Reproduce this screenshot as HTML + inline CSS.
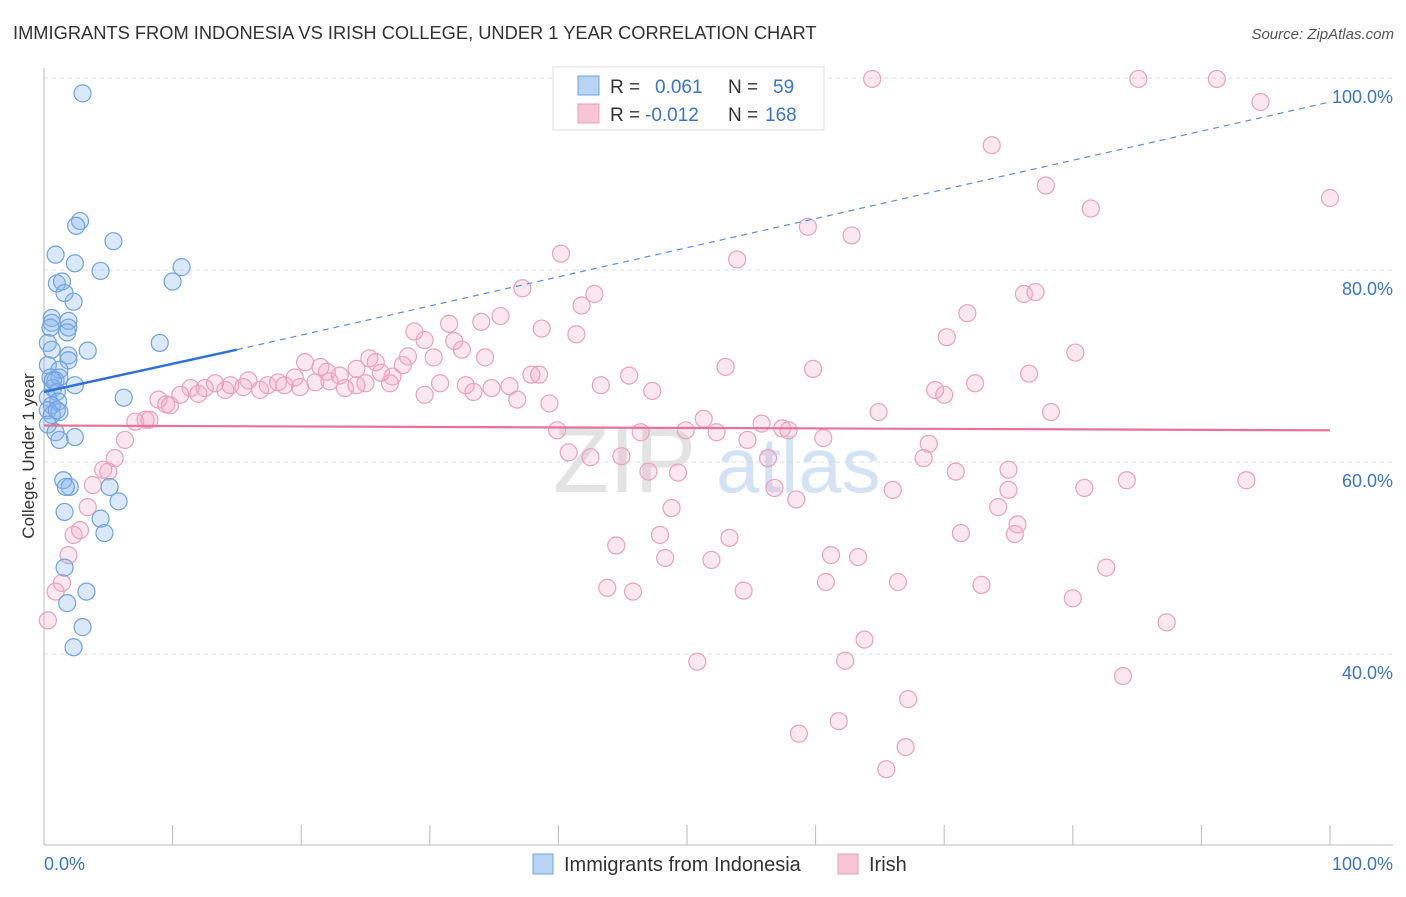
<!DOCTYPE html>
<html><head><meta charset="utf-8"><style>
body{margin:0;background:#fff;font-family:"Liberation Sans",sans-serif;}
svg text{font-family:"Liberation Sans",sans-serif;}
</style></head><body>
<svg id="chart" width="1406" height="892" viewBox="0 0 1406 892" xmlns="http://www.w3.org/2000/svg">
<text x="13" y="39" font-size="18.3" fill="#333">IMMIGRANTS FROM INDONESIA VS IRISH COLLEGE, UNDER 1 YEAR CORRELATION CHART</text>
<text x="1394" y="39" font-size="15" fill="#555" text-anchor="end" font-style="italic">Source: ZipAtlas.com</text>
<g id="grid"></g>
<text x="553" y="492" font-size="92" fill="#ddd" font-family="Liberation Serif" opacity="0.8">ZIP</text>
<text x="716" y="492" font-size="78" fill="#c9dcf2" opacity="0.8">atlas</text>
<g id="axes"></g>
<g id="pts"></g>
<g id="trends"></g>
<text transform="translate(34,456) rotate(-90)" font-size="17" fill="#333" text-anchor="middle">College, Under 1 year</text>
<g>
<rect x="553" y="67" width="271" height="63" fill="#fff" stroke="#ddd"/>
<rect x="578" y="76" width="21" height="19" fill="#b8d3f3" stroke="#6fa4e0"/>
<rect x="578" y="104" width="21" height="19" fill="#f8c5d6" stroke="#e9a0bb"/>
<text x="610" y="93" font-size="19" fill="#333">R =</text><text x="655" y="93" font-size="19" fill="#3a74d0">0.061</text>
<text x="728" y="93" font-size="19" fill="#333">N =</text><text x="773" y="93" font-size="19" fill="#3a74d0">59</text>
<text x="610" y="121" font-size="19" fill="#333">R =</text><text x="645" y="121" font-size="19" fill="#3a74d0">-0.012</text>
<text x="728" y="121" font-size="19" fill="#333">N =</text><text x="765" y="121" font-size="19" fill="#3a74d0">168</text>
</g>
<g>
<rect x="533" y="854" width="20" height="20" fill="#b8d3f3" stroke="#6fa4e0"/>
<text x="564" y="871" font-size="20" fill="#333">Immigrants from Indonesia</text>
<rect x="838" y="854" width="20" height="20" fill="#f8c5d6" stroke="#e9a0bb"/>
<text x="869" y="871" font-size="20" fill="#333">Irish</text>
</g>
</svg>
<script>
const yTicks=[40,60,80,100];
const yTickLabels=["40.0%","60.0%","80.0%","100.0%"];
const xTickLabels=["0.0%","100.0%"];
const bluePx=[[82,93],[80,221],[76,226],[113,241],[56,255],[100,271],[75,263],[181,267],[172,282],[57,283],[62,282],[65,293],[73,302],[52,318],[52,323],[69,321],[69,328],[67,332],[50,328],[160,343],[48,343],[52,350],[88,351],[68,355],[68,360],[48,365],[60,370],[50,378],[60,378],[75,385],[55,380],[53,388],[57,392],[48,398],[124,398],[58,402],[52,405],[48,410],[60,412],[52,415],[48,425],[56,432],[75,437],[60,440],[63,480],[70,487],[66,487],[110,487],[119,501],[64,512],[101,519],[104,533],[64,568],[87,592],[67,603],[82,627],[73,647],[53,380],[57,410]];
const pinkPx=[[872,79],[1139,79],[1217,79],[1261,102],[992,145],[1330,198],[1046,186],[1091,209],[808,227],[852,235],[561,254],[737,259],[522,288],[594,294],[581,306],[1024,294],[1036,292],[967,313],[414,331],[449,324],[481,322],[500,316],[542,329],[576,334],[947,337],[1075,353],[425,340],[454,341],[462,350],[485,357],[408,356],[434,357],[370,358],[305,362],[320,367],[327,372],[340,376],[357,369],[376,362],[381,373],[393,377],[403,365],[356,385],[330,381],[315,382],[295,378],[285,385],[268,385],[249,380],[230,385],[215,383],[205,388],[190,388],[180,395],[170,405],[158,400],[166,404],[145,420],[135,422],[150,420],[125,440],[115,458],[103,470],[108,472],[93,485],[88,507],[80,530],[73,535],[68,555],[62,583],[55,592],[48,620],[198,394],[225,390],[243,387],[260,390],[278,382],[300,387],[345,388],[365,383],[390,383],[425,395],[440,383],[466,385],[474,392],[492,388],[509,386],[517,400],[532,375],[539,375],[550,403],[601,385],[629,376],[652,391],[726,367],[813,369],[935,390],[944,395],[975,383],[1029,374],[1051,412],[878,412],[704,419],[762,424],[788,430],[782,428],[748,440],[716,432],[686,430],[641,432],[557,430],[823,438],[768,458],[929,444],[923,458],[956,472],[648,472],[678,473],[569,452],[591,457],[621,456],[774,488],[796,499],[893,490],[1008,490],[1085,488],[1127,480],[1247,480],[672,508],[660,535],[998,507],[1018,524],[1015,534],[961,533],[730,538],[616,546],[665,558],[711,560],[831,555],[858,557],[826,582],[898,582],[981,585],[607,588],[633,592],[743,591],[1106,568],[1073,598],[1167,622],[865,640],[845,661],[697,662],[1123,676],[908,699],[839,721],[799,734],[905,747],[886,769],[1009,470]];
const blueData=bluePx.map(p=>[+((p[0]-44)/12.86).toFixed(1),+(100-(p[1]-78)/9.6).toFixed(1)]);
const pinkData=pinkPx.map(p=>[+((p[0]-44)/12.86).toFixed(1),+(100-(p[1]-78)/9.6).toFixed(1)]);
const blueTrend=[[0,67.3],[15,71.7],[100,97.5]];
const pinkTrend=[[0,63.8],[100,63.3]];

const NS="http://www.w3.org/2000/svg";
const X=v=>44+v*12.86, Y=v=>78+(100-v)*9.6;
function mk(tag,attrs,parent){const e=document.createElementNS(NS,tag);for(const k in attrs)e.setAttribute(k,attrs[k]);document.getElementById(parent).appendChild(e);return e;}
yTicks.forEach((t,i)=>{
 const l=mk('line',{x1:44,x2:1393,y1:Y(t),y2:Y(t),stroke:'#ddd','stroke-dasharray':'4,4'},'grid');
 
 
 const tx=mk('text',{x:1393,y:Y(t)+25,'font-size':18,fill:'#3a74d0','text-anchor':'end'},'axes');
 tx.textContent=yTickLabels[i];
 
 
});
mk('line',{x1:44,x2:44,y1:68,y2:845,stroke:'#bbb'},'axes');
mk('line',{x1:44,x2:1393,y1:845,y2:845,stroke:'#bbb'},'axes');
for(let i=0;i<=10;i++){const t=mk('line',{x1:X(i*10),x2:X(i*10),y1:825,y2:845,stroke:'#bbb'},'axes');
 
 }
const x0=mk('text',{x:44,y:870,'font-size':18,fill:'#3a74d0'},'axes');x0.textContent=xTickLabels[0];


const x1=mk('text',{x:1393,y:870,'font-size':18,fill:'#3a74d0','text-anchor':'end'},'axes');x1.textContent=xTickLabels[1];


pinkData.forEach(d=>{const c=mk('circle',{cx:X(d[0]),cy:Y(d[1]),r:8.5,fill:'rgba(240,160,190,0.25)',stroke:'#eaa2bd','stroke-width':1.2},'pts');
 
 });
blueData.forEach(d=>{const c=mk('circle',{cx:X(d[0]),cy:Y(d[1]),r:8.5,fill:'rgba(135,180,235,0.3)',stroke:'#6fa4e0','stroke-width':1.2},'pts');
 
 });
const b1=mk('line',{x1:X(blueTrend[0][0]),y1:Y(blueTrend[0][1]),x2:X(blueTrend[1][0]),y2:Y(blueTrend[1][1]),stroke:'#2f6fd6','stroke-width':2.5},'trends');


const b2=mk('line',{x1:X(blueTrend[1][0]),y1:Y(blueTrend[1][1]),x2:X(blueTrend[2][0]),y2:Y(blueTrend[2][1]),stroke:'#5b8fe0','stroke-width':1.2,'stroke-dasharray':'6,5'},'trends');


const p1=mk('line',{x1:X(pinkTrend[0][0]),y1:Y(pinkTrend[0][1]),x2:X(pinkTrend[1][0]),y2:Y(pinkTrend[1][1]),stroke:'#e8709a','stroke-width':2.2},'trends');


</script>
</body></html>
